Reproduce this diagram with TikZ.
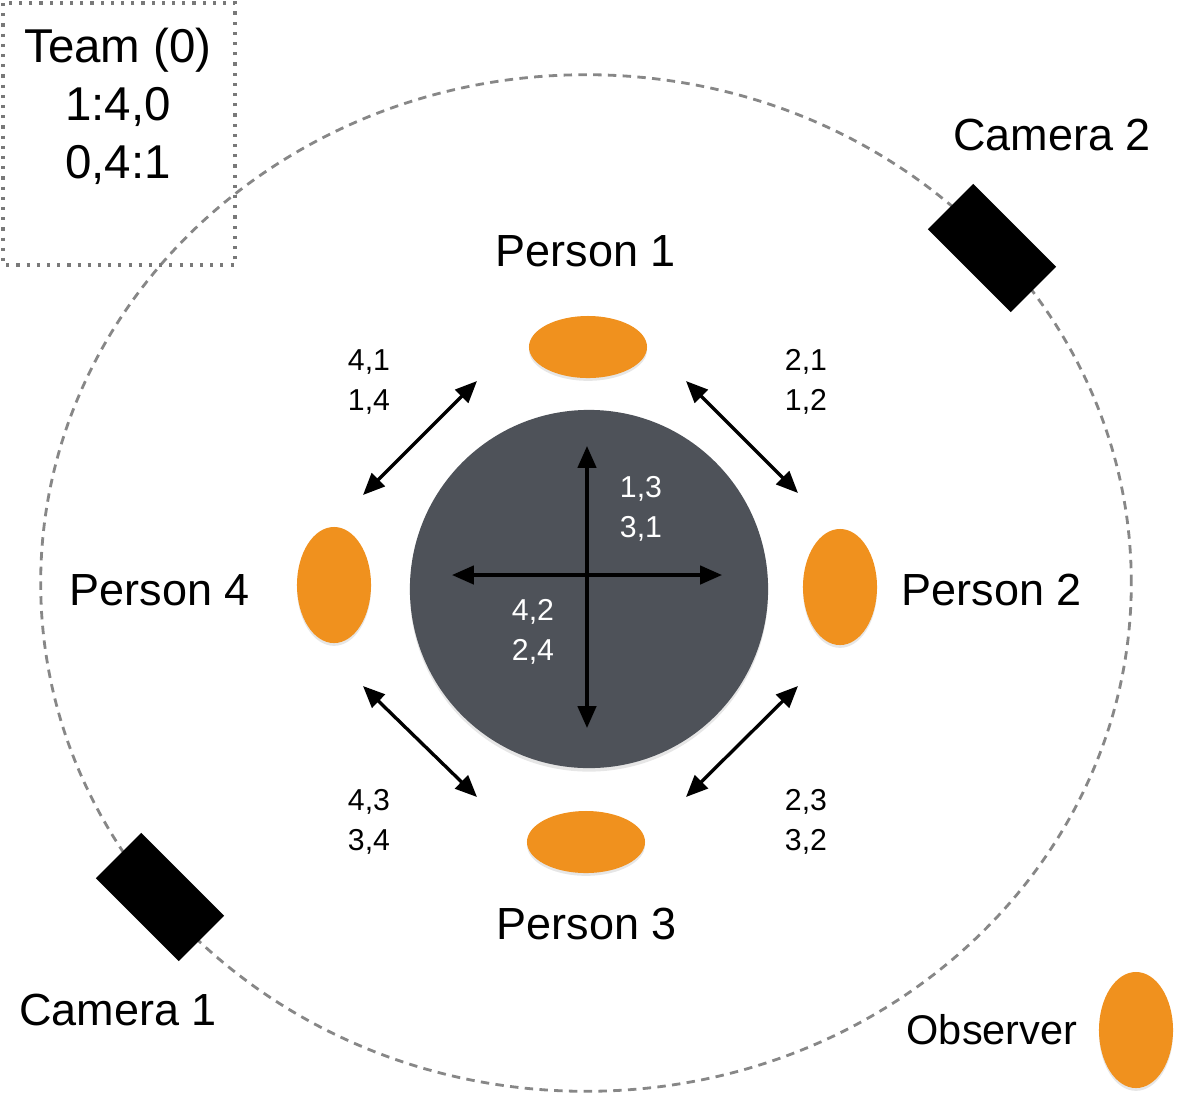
\documentclass[tikz,border=0pt]{standalone}
\usepackage{fontspec}
\setmainfont{Liberation Sans}
\definecolor{tablegray}{RGB}{78,82,89}
\definecolor{seatorange}{RGB}{240,145,30}
\definecolor{ringgray}{RGB}{135,135,135}
\usetikzlibrary{arrows.meta,shapes.geometric,shadows}

\begin{document}
\begin{tikzpicture}[x=0.01cm,y=-0.01cm,
    seat/.style={ellipse,fill=seatorange,inner sep=0pt,
      drop shadow={opacity=0.2,shadow xshift=0pt,shadow yshift=-0.8pt}},
    wideseat/.style={seat,minimum width=1.18cm,minimum height=0.62cm},
    tallseat/.style={seat,minimum width=0.74cm,minimum height=1.16cm},
    camera/.style={fill=black,inner sep=0pt,minimum width=1.17cm,minimum height=0.64cm,rotate=-45},
    bigtext/.style={font=\fontsize{12.8}{15}\selectfont},
    pairtext/.style={align=center,font=\fontsize{8.6}{11.4}\selectfont},
    link/.style={<->,>={Triangle[length=6.2pt,width=5.2pt]},line width=0.95pt}]
    \useasboundingbox (0,0) rectangle (1181,1102);

    % Room and team box
    \draw[ringgray,line width=0.8pt,dash pattern=on 2.4pt off 1.8pt] (586,583) ellipse [x radius=5.45cm,y radius=5.08cm];
    \draw[ringgray!90!black,line width=0.9pt,dotted] (3,3) rectangle (235,265);
    \node[align=center,font=\fontsize{13.5}{16.5}\selectfont] (team) at (118,106) {Team (0)\\1:4,0\\0,4:1};

    % Cameras
    \node[camera] (cam2) at (992,248) {};
    \node[bigtext] (cam2lbl) at (1052,135) {Camera 2};
    \node[camera] (cam1) at (160,897) {};
    \node[bigtext] (cam1lbl) at (118,1010) {Camera 1};

    % Table
    \node[circle,fill=tablegray,inner sep=0pt,minimum size=3.58cm,
      drop shadow={opacity=0.2,shadow xshift=0pt,shadow yshift=-1pt}] (table) at (589,589) {};

    % People
    \node[wideseat] (p1) at (588,347) {};
    \node[tallseat] (p2) at (840,587) {};
    \node[wideseat] (p3) at (586,842) {};
    \node[tallseat] (p4) at (334,585) {};
    \node[tallseat] (obs) at (1136,1030) {};
    \node[bigtext] (p1lbl) at (586,251) {Person 1};
    \node[bigtext] (p2lbl) at (992,590) {Person 2};
    \node[bigtext] (p3lbl) at (587,924) {Person 3};
    \node[bigtext] (p4lbl) at (160,590) {Person 4};
    \node[font=\fontsize{11.8}{14}\selectfont] (obslbl) at (992,1030) {Observer};

    % Pair arrows around the table
    \coordinate (a41s) at (363,495); \coordinate (a41e) at (477,381);
    \coordinate (a21s) at (686,381); \coordinate (a21e) at (798,493);
    \coordinate (a23s) at (798,686); \coordinate (a23e) at (686,797);
    \coordinate (a43s) at (363,686); \coordinate (a43e) at (477,797);
    \draw[link] (a41s) -- (a41e);
    \draw[link] (a21s) -- (a21e);
    \draw[link] (a23s) -- (a23e);
    \draw[link] (a43s) -- (a43e);
    \node[pairtext] (t41) at (369,382) {4,1\\1,4};
    \node[pairtext] (t21) at (806,382) {2,1\\1,2};
    \node[pairtext] (t23) at (806,822) {2,3\\3,2};
    \node[pairtext] (t43) at (369,822) {4,3\\3,4};

    % Cross over the table
    \coordinate (c1) at (587,446); \coordinate (c3) at (587,728);
    \coordinate (c4) at (452,575); \coordinate (c2) at (722,575);
    \draw[link] (c1) -- (c3);
    \draw[link] (c4) -- (c2);
    \node[pairtext,white] (t13) at (641,509) {1,3\\3,1};
    \node[pairtext,white] (t42) at (533,632) {4,2\\2,4};
\end{tikzpicture}
\end{document}
